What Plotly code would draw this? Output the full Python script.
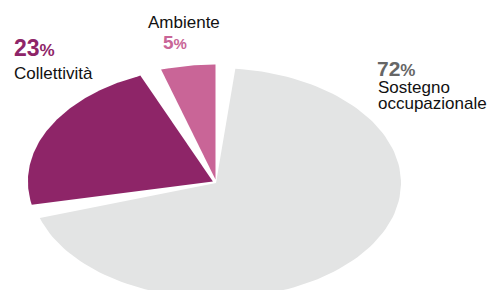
import numpy as np
import plotly.graph_objects as go

# ---- data ----
labels = ["Ambiente", "Collettività", "Sostegno occupazionale"]
values = [5, 23, 72]
pct_text = ["5", "23", "72"]

# ---- style ----
colors = ["#C96597", "#8E2568", "#E3E4E4"]
pct_colors = ["#C96597", "#8E2568", "#666666"]
pulls = [3.5, 3.5, 0.0]          # px
gap_deg = 6.0
cx, cy, rx, ry = 216.0, 183.0, 185.0, 115.0
start_deg = 90.0

W, H = 489, 290
fig = go.Figure()

total = float(sum(values))
usable = 360.0 - gap_deg * len(values)
t0 = start_deg
for lab, v, col, p in zip(labels, values, colors, pulls):
    span = v / total * usable
    t = np.radians(np.linspace(t0, t0 + span, 120))
    mid = np.radians(t0 + span / 2)
    dx, dy = p * np.cos(mid), -p * np.sin(mid)
    xs = np.concatenate([[cx + dx], cx + dx + rx * np.cos(t), [cx + dx]])
    ys = np.concatenate([[cy + dy], cy + dy - ry * np.sin(t), [cy + dy]])
    fig.add_trace(go.Scatter(x=xs, y=ys, mode="lines", fill="toself",
                             fillcolor=col, line=dict(width=0, color=col),
                             hoverinfo="text", text=f"{lab}: {v}%",
                             showlegend=False))
    t0 += span + gap_deg

FONT = "Liberation Sans, Arial, sans-serif"

def ann(x, y, text, size, color):
    fig.add_annotation(x=x, y=y, xref="x", yref="y", text=text,
                       showarrow=False, xanchor="left", yanchor="middle",
                       borderpad=0,
                       font=dict(family=FONT, size=size, color=color))

def pct(x, y, num, big, small, color):
    ann(x, y, f"<b>{num}</b><b><span style='font-size:{small}px'>%</span></b>", big, color)

# Collettività
pct(12.5, 48, pct_text[1], 23, 17, pct_colors[1])
ann(13, 73.5, labels[1], 17, "#111111")
# Ambiente
ann(146.5, 22.5, labels[0], 17, "#111111")
pct(161.5, 42.5, pct_text[0], 19, 15, pct_colors[0])
# Sostegno occupazionale
pct(376, 68, pct_text[2], 21, 17, pct_colors[2])
ann(376.5, 87, "Sostegno", 17, "#111111")
ann(376.5, 103.5, "occupazionale", 17, "#111111")

fig.update_layout(width=W, height=H, margin=dict(l=0, r=0, t=0, b=0),
                  paper_bgcolor="white", plot_bgcolor="white",
                  showlegend=False)
fig.update_xaxes(range=[0, W], visible=False, fixedrange=True)
fig.update_yaxes(range=[H, 0], visible=False, fixedrange=True)

fig.write_html("out.html", config={"displayModeBar": False},
               post_script="document.body.style.margin='0';document.body.style.overflow='hidden';")
